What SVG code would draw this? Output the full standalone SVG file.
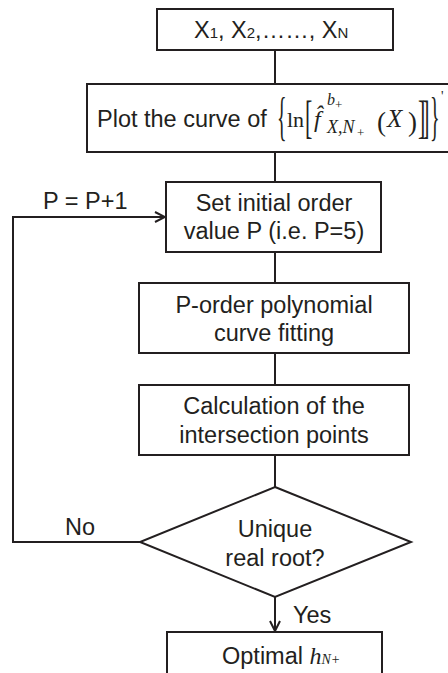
<svg xmlns="http://www.w3.org/2000/svg" width="448" height="673" viewBox="0 0 448 673">
<defs>
<style>
.box{fill:#fff;stroke:#231f20;stroke-width:2}
.t{font-family:"Liberation Sans",Arial,sans-serif;font-size:23.5px;fill:#231f20;text-anchor:middle}
.tl{font-family:"Liberation Sans",Arial,sans-serif;font-size:23.5px;fill:#231f20}
.m{font-family:"Liberation Serif","Times New Roman",serif;fill:#231f20}
.i{font-style:italic}
.c{fill:none;stroke:#231f20;stroke-width:2}
</style>
<marker id="arr" viewBox="0 0 12 12" refX="11" refY="6" markerWidth="12" markerHeight="12" markerUnits="userSpaceOnUse" orient="auto">
<path d="M1,1 L11,6 L1,11" fill="none" stroke="#231f20" stroke-width="2"/>
</marker>
</defs>
<rect width="448" height="673" fill="#fff"/>
<g id="connectors">
<line class="c" x1="275" y1="50" x2="275" y2="84"/>
<line class="c" x1="275" y1="152" x2="275" y2="182"/>
<line class="c" x1="275" y1="252" x2="275" y2="283"/>
<line class="c" x1="275" y1="353" x2="275" y2="385"/>
<line class="c" x1="275" y1="455" x2="275" y2="487"/>
<line class="c" x1="275" y1="597" x2="275" y2="631" marker-end="url(#arr)"/>
<polyline class="c" points="140,542 13,542 13,217 165,217" marker-end="url(#arr)"/>
<text class="tl" x="43" y="209">P = P+1</text>
<text class="tl" x="65" y="535">No</text>
<text class="tl" x="293" y="623">Yes</text>
</g>
<g id="n1">
<rect class="box" x="157" y="9" width="236" height="41"/>
<text class="tl" x="194" y="38" font-size="24">X<tspan font-size="15">1</tspan>, X<tspan font-size="15">2</tspan>,……, X<tspan font-size="15">N</tspan></text>
</g>
<g id="n2">
<rect class="box" x="87" y="84" width="365" height="68"/>
<text class="tl" x="97" y="127" font-size="24.3">Plot the curve of</text>
<text class="m" font-size="20" transform="translate(277,134) scale(1,2.6)">{</text>
<text class="m" font-size="22" x="287" y="127">ln</text>
<text class="m" font-size="22" transform="translate(305,133) scale(1,2.15)">[</text>
<text class="m i" font-size="24" x="314" y="127">f̂</text>
<text class="m i" font-size="16" x="327" y="105">b</text>
<text class="m" font-size="13" x="335" y="109">+</text>
<text class="m i" font-size="18" x="327" y="133">X,N</text>
<text class="m" font-size="13" x="357" y="137">+</text>
<text class="m" font-size="27" x="377" y="131">(</text>
<text class="m i" font-size="25" x="387" y="127">X</text>
<text class="m" font-size="27" x="408" y="131">)</text>
<text class="m" font-size="22" letter-spacing="-3" transform="translate(418,133) scale(1,2.15)">]]</text>
<text class="m" font-size="20" transform="translate(430,134) scale(1,2.6)">}</text>
<text class="m" font-size="14" x="441" y="101">'</text>
</g>
<g id="n3">
<rect class="box" x="166" y="182" width="215" height="70"/>
<text class="t" x="274" y="211">Set initial order</text>
<text class="t" x="274" y="239">value P (i.e. P=5)</text>
</g>
<g id="n4">
<rect class="box" x="139" y="283" width="270" height="70"/>
<text class="t" x="274" y="313">P-order polynomial</text>
<text class="t" x="274" y="341">curve fitting</text>
</g>
<g id="n5">
<rect class="box" x="139" y="385" width="270" height="70"/>
<text class="t" x="274" y="414">Calculation of the</text>
<text class="t" x="274" y="443">intersection points</text>
</g>
<g id="n6">
<polygon class="box" points="275,487 411,542 275,597 140,542"/>
<text class="t" x="275" y="537">Unique</text>
<text class="t" x="275" y="566">real root?</text>
</g>
<g id="n7">
<rect class="box" x="167" y="632" width="215" height="45"/>
<text class="tl" x="222" y="664" font-size="22">Optimal <tspan class="m i" font-size="24">h</tspan><tspan class="m i" font-size="14">N+</tspan></text>
</g>
</svg>
